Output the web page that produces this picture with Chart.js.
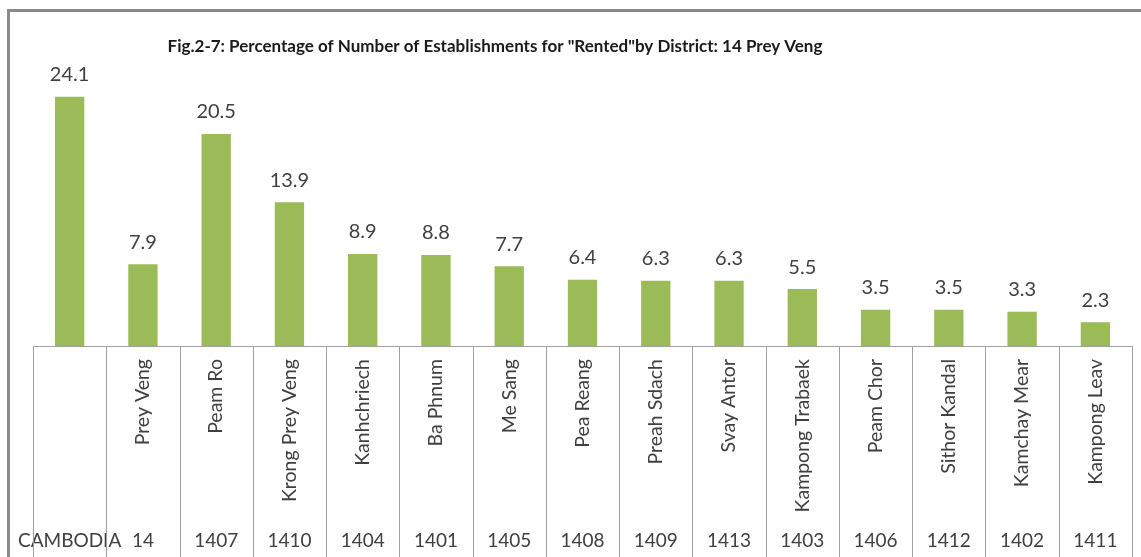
<!DOCTYPE html>
<html>
<head>
<meta charset="utf-8">
<script src="https://cdn.jsdelivr.net/npm/chart.js@4"></script>
<style>
    body { margin: 0; background: #fff; overflow: hidden; }
    #frame {
        position: absolute; left: 7px; top: 9px; width: 1300px; height: 700px;
        border-top: 3px solid #8a8a8a; border-left: 3px solid #8a8a8a;
    }
    #wrap { position: absolute; left: 0; top: 0; width: 1141px; height: 557px; }
</style>
</head>
<body>
<div id="frame"></div>
<div id="wrap"><canvas id="myChart" width="1141" height="557"></canvas></div>
<script>
const titulo = 'Fig.2-7: Percentage of Number of Establishments for "Rented"by District: 14 Prey Veng'
const codigos = ['CAMBODIA', '14', '1407', '1410', '1404', '1401', '1405', '1408', '1409', '1413', '1403', '1406', '1412', '1402', '1411']
const distritos = ['', 'Prey Veng', 'Peam Ro', 'Krong Prey Veng', 'Kanhchriech', 'Ba Phnum', 'Me Sang', 'Pea Reang',
    'Preah Sdach', 'Svay Antor', 'Kampong Trabaek', 'Peam Chor', 'Sithor Kandal', 'Kamchay Mear', 'Kampong Leav']
const valores = [24.1, 7.9, 20.5, 13.9, 8.9, 8.8, 7.7, 6.4, 6.3, 6.3, 5.5, 3.5, 3.5, 3.3, 2.3]

const fonte = "Lato, 'Open Sans', sans-serif"
const corTexto = '#404040'
const corLinha = '#a0a0a0'

// título (no original ele não fica centralizado no gráfico)
const tituloPlugin = {
    id: 'tituloPlugin',
    afterDraw(chart) {
        const ctx = chart.ctx
        ctx.save()
        ctx.font = 'bold 17px ' + fonte
        ctx.fillStyle = '#1a1a1a'
        ctx.textAlign = 'center'
        ctx.textBaseline = 'middle'
        ctx.fillText(titulo, 495, 47)
        ctx.restore()
    }
}

// rótulos de valor em cima das barras
const rotulos = {
    id: 'rotulos',
    afterDatasetsDraw(chart) {
        const ctx = chart.ctx
        const meta = chart.getDatasetMeta(0)
        ctx.save()
        ctx.font = '20px ' + fonte
        ctx.fillStyle = corTexto
        ctx.textAlign = 'center'
        ctx.textBaseline = 'middle'
        meta.data.forEach((barra, i) => {
            ctx.fillText(valores[i].toFixed(1), barra.x, barra.y - 22)
        })
        ctx.restore()
    }
}

// linhas verticais separando as categorias embaixo do eixo
const divisorias = {
    id: 'divisorias',
    afterDraw(chart) {
        const ctx = chart.ctx
        const x = chart.scales.x
        ctx.save()
        ctx.strokeStyle = corLinha
        ctx.lineWidth = 1
        for (let i = 0; i <= codigos.length; i++) {
            const px = Math.round(x.getPixelForValue(i - 0.5)) + 0.5
            ctx.beginPath()
            ctx.moveTo(px, chart.chartArea.bottom)
            ctx.lineTo(px, chart.height)
            ctx.stroke()
        }
        ctx.restore()
    }
}

const ctx = document.getElementById('myChart')

new Chart(ctx, {
    type: 'bar',
    data: {
        labels: distritos,
        datasets: [{
            data: valores,
            backgroundColor: '#9bbb59',
            borderWidth: 0,
            barPercentage: 0.4,
            categoryPercentage: 1
        }]
    },
    options: {
        responsive: false,
        animation: false,
        layout: {
            padding: { left: 33, right: 9, top: 77, bottom: 0 }
        },
        scales: {
            y: {
                display: false,
                min: 0,
                max: 26
            },
            x: {
                position: 'bottom',
                weight: 1,
                grid: { drawOnChartArea: false, drawTicks: false },
                border: { display: true, color: corLinha, width: 1 },
                ticks: {
                    autoSkip: false,
                    minRotation: 90,
                    maxRotation: 90,
                    padding: 13,
                    color: corTexto,
                    font: { family: fonte, size: 19.5 }
                },
                afterFit(scale) {
                    scale.height = 175
                    scale.paddingLeft = 0
                    scale.paddingRight = 0
                }
            },
            x2: {
                type: 'category',
                position: 'bottom',
                weight: 2,
                labels: codigos,
                offset: true,
                grid: { display: false },
                border: { display: false },
                ticks: {
                    autoSkip: false,
                    maxRotation: 0,
                    padding: 0,
                    color: corTexto,
                    font: { family: fonte, size: 19 }
                },
                afterFit(scale) {
                    scale.height = 36
                    scale.paddingLeft = 0
                    scale.paddingRight = 0
                }
            }
        },
        plugins: {
            legend: { display: false },
            tooltip: { enabled: false },
            title: { display: false }
        }
    },
    plugins: [rotulos, divisorias, tituloPlugin]
});
</script>
</body>
</html>
